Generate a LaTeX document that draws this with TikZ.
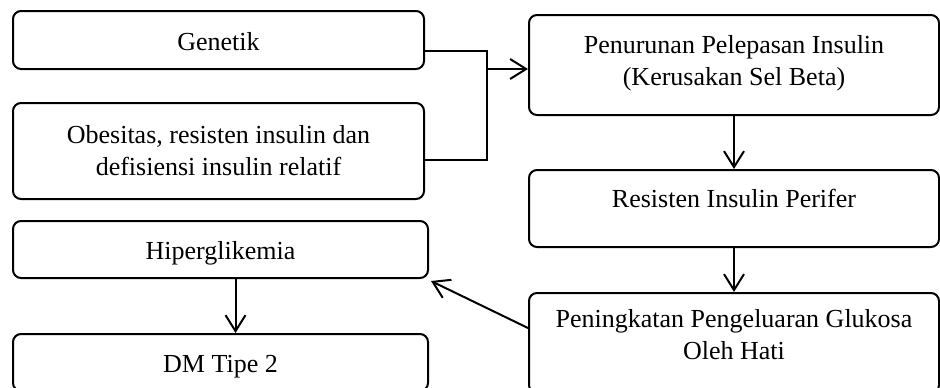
\documentclass[tikz,border=0pt]{standalone}
\usepackage{fontspec}
\setmainfont{Liberation Serif}
\usetikzlibrary{arrows.meta}

\begin{document}
\begin{tikzpicture}[x=0.5pt,y=-0.5pt]
						\tikzstyle{box}=[draw=black,line width=1pt,rounded corners=4pt,inner sep=0pt,align=center,font=\fontsize{13}{16}\selectfont]
						\tikzstyle{oneline}=[text height=12pt,text depth=2pt]
						\tikzstyle{arr}=[line width=1pt,-{Straight Barb[length=8pt,width=10pt,line width=1pt]}]
						\useasboundingbox (0,0) rectangle (940,387);
						\clip (0,0) rectangle (940,387);
						\node[box,oneline,minimum width=205.5pt,minimum height=29pt] (gen) at (218.5,40) {Genetik};
						\node[box,minimum width=205.5pt,minimum height=48pt] (obes) at (218.5,151) {Obesitas, resisten insulin dan\\defisiensi insulin relatif};
						\node[box,oneline,minimum width=207.5pt,minimum height=28.5pt] (hiper) at (220.5,249.5) {Hiperglikemia};
						\node[box,oneline,minimum width=207.5pt,minimum height=28.5pt] (dm) at (220.5,362.5) {DM Tipe 2};
						\node[box,minimum width=205pt,minimum height=50pt,text depth=5pt] (pen) at (734,65) {Penurunan Pelepasan Insulin\\(Kerusakan Sel Beta)};
						\node[box,minimum width=205pt,minimum height=38.5pt,text depth=10pt] (res) at (734,208.5) {Resisten Insulin Perifer};
						\node[box,minimum width=205pt,minimum height=50pt,text depth=9pt] (pening) at (734,343) {Peningkatan Pengeluaran Glukosa\\Oleh Hati};
						\coordinate (bus) at (487,69);
						\draw[line width=1pt] ([yshift=-5.5pt]gen.east) -| (bus) |- ([yshift=-4.5pt]obes.east);
						\draw[arr] (bus) -- (bus -| pen.west);
						\draw[arr] (pen.south) -- (res.north);
						\draw[arr] (res.south) -- (pening.north);
						\draw[arr] ([yshift=7.5pt]pening.west) -- ([shift={(1pt,-1pt)}]hiper.south east);
						\draw[arr] ([xshift=7.5pt]hiper.south) -- ([xshift=7.5pt]dm.north);
						\end{tikzpicture}
\end{document}
